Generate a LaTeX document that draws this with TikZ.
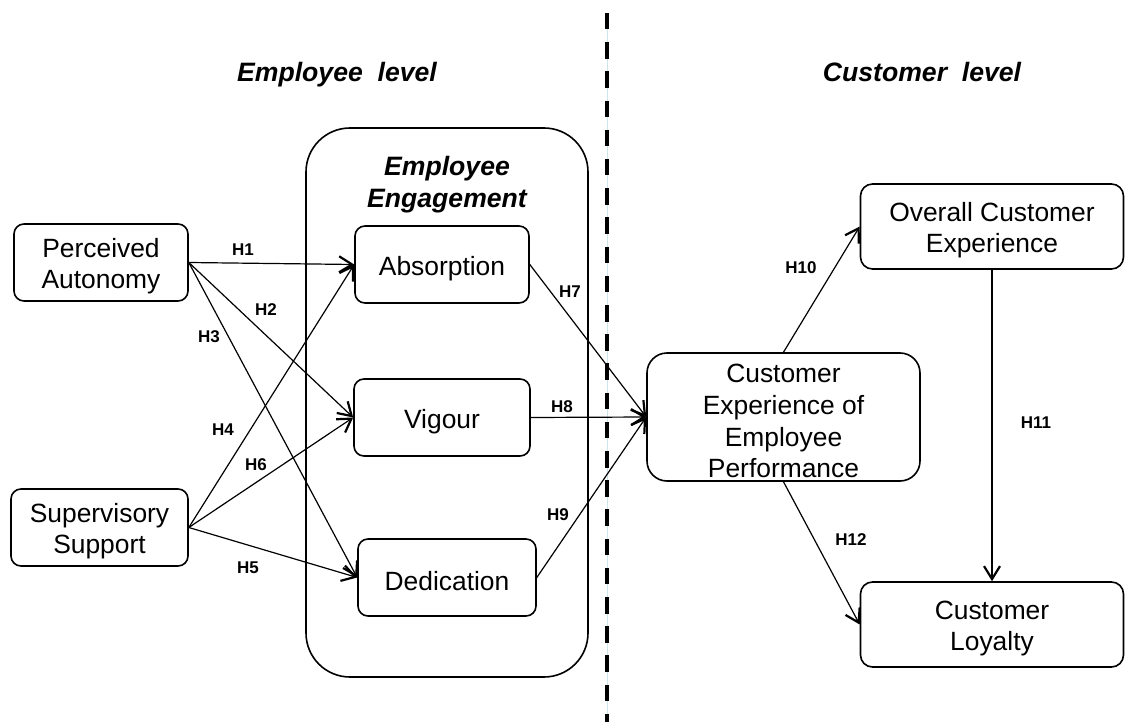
\documentclass[tikz,border=0pt]{standalone}
\usepackage{fontspec}
\setmainfont{Liberation Sans}
\usetikzlibrary{arrows.meta}
\definecolor{faintblue}{RGB}{205,228,234}
\newcommand{\tstrut}{\rule{0pt}{13.4pt}}
\begin{document}
\begin{tikzpicture}[x=0.5pt,y=-0.5pt,
  box/.style={draw, line width=0.8pt, rounded corners=5pt, align=center, inner sep=0pt,
    font=\fontsize{13.2}{15.8}\selectfont},
  hyp/.style={font=\fontsize{8.5}{10}\selectfont\bfseries, inner sep=0pt},
  lvl/.style={font=\fontsize{13.3}{16}\selectfont\bfseries\itshape, inner sep=0pt, align=center},
  arr/.style={-{Straight Barb[length=6.5pt,width=8pt,line width=1.1pt]}, line width=0.6pt},
]
\useasboundingbox (0,0) rectangle (1125,722);

% separator
\draw[line width=0.5pt, faintblue] (607,13) -- (607,722);
\draw[line width=1.8pt, dash pattern=on 8.25pt off 6.35pt] (607,13) -- (607,722);

% level titles
\node[lvl, anchor=base] (emplvl) at (337,82) {Employee\ \ level};
\node[lvl, anchor=base] (custlvl) at (922,82) {Customer\ \ level};

% engagement container
\node[draw, line width=0.8pt, rounded corners=22pt, minimum width=141pt, minimum height=274.5pt, inner sep=0pt] (eng) at (447,402.5) {};
\node[lvl] (engtitle) at (447,185) {Employee\\Engagement};

% boxes
\node[box, minimum width=87pt, minimum height=38.5pt] (pa) at (101,262.5) {\tstrut Perceived\\Autonomy};
\node[box, minimum width=88.5pt, minimum height=38.5pt] (ss) at (99.5,527.5) {\tstrut Supervisory\\Support};
\node[box, minimum width=87pt, minimum height=38.5pt] (abs) at (442,264.5) {\tstrut Absorption};
\node[box, minimum width=88pt, minimum height=38.5pt] (vig) at (442,417.5) {\tstrut Vigour};
\node[box, minimum width=89pt, minimum height=38.5pt] (ded) at (447,577.5) {\tstrut Dedication};
\node[box, rounded corners=10pt, minimum width=136.5pt, minimum height=64pt] (ceep) at (783.5,417) {\tstrut Customer\\Experience of\\Employee\\Performance};
\node[box, rounded corners=6pt, minimum width=131.5pt, minimum height=42.5pt] (oce) at (992,226.5) {\tstrut Overall Customer\\Experience};
\node[box, rounded corners=6pt, minimum width=131.5pt, minimum height=42.5pt] (cl) at (992,624.5) {\tstrut Customer\\Loyalty};

% connectors
\draw[arr] (pa.east) -- (abs.west);
\draw[arr] (pa.east) -- (vig.west);
\draw[arr] (pa.east) -- (ded.west);
\draw[arr] (ss.east) -- (abs.west);
\draw[arr] (ss.east) -- (vig.west);
\draw[arr] (ss.east) -- (ded.west);
\draw[arr] (abs.east) -- (ceep.west);
\draw[arr] (vig.east) -- (ceep.west);
\draw[arr] (ded.east) -- (ceep.west);
\draw[arr] (ceep.north) -- (oce.west);
\draw[arr] (oce.south) -- (cl.north);
\draw[arr] (ceep.south) -- (cl.west);

% hypothesis labels
\node[hyp] (h1) at (243,250) {H1};
\node[hyp] (h2) at (266,310) {H2};
\node[hyp] (h3) at (209,337) {H3};
\node[hyp] (h4) at (223,430) {H4};
\node[hyp] (h5) at (248,568) {H5};
\node[hyp] (h6) at (256,465) {H6};
\node[hyp] (h7) at (570,292) {H7};
\node[hyp] (h8) at (562,407) {H8};
\node[hyp] (h9) at (558,515) {H9};
\node[hyp] (h10) at (801,268) {H10};
\node[hyp] (h11) at (1036,423) {H11};
\node[hyp] (h12) at (851,540) {H12};
\end{tikzpicture}
\end{document}
